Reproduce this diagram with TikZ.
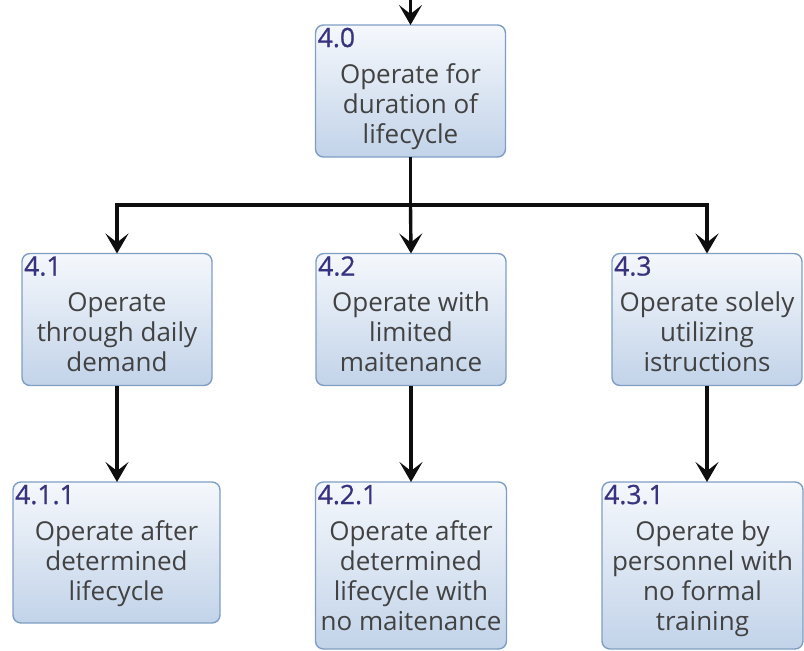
\documentclass[tikz,border=0pt]{standalone}
\usepackage{fontspec}
\setmainfont{Open Sans}
\newfontfamily\idfont[FakeBold=0.8]{Open Sans}
\usetikzlibrary{arrows.meta}

\definecolor{boxedge}{HTML}{7F9EC4}
\definecolor{boxtop}{HTML}{F5F8FC}
\definecolor{boxbot}{HTML}{C2D3E9}
\definecolor{txtgray}{HTML}{424242}
\definecolor{idblue}{HTML}{37337F}
\definecolor{wire}{HTML}{0E0E0E}

\begin{document}
\begin{tikzpicture}[x=1pt,y=-1pt,
  taskbox/.style={draw=boxedge, line width=1.4pt, rounded corners=8pt,
    top color=boxtop, bottom color=boxbot, inner sep=0pt, outer sep=0pt},
  idlabel/.style={inner sep=0pt, text=idblue, font=\idfont\fontsize{26.5}{30}\selectfont, anchor=base west},
  tasktext/.style={inner sep=0pt, text=txtgray, align=center, anchor=north,
    font=\fontsize{26}{30}\selectfont},
  wireline/.style={draw=wire, line width=3.4pt},
  wirearrow/.style={wireline, -{Stealth[length=20pt, width=23pt, inset=9pt]}}
]
\useasboundingbox (0,0) rectangle (804,651);

% task boxes
\node[taskbox, minimum width=190, minimum height=132] (n40) at (410.5,91) {};
\node[taskbox, minimum width=190, minimum height=132] (n41) at (117,319.5) {};
\node[taskbox, minimum width=190, minimum height=132] (n42) at (411,319.5) {};
\node[taskbox, minimum width=190, minimum height=132] (n43) at (707,319.5) {};
\node[taskbox, minimum width=207, minimum height=141] (n411) at (116.5,552.5) {};
\node[taskbox, minimum width=191, minimum height=167] (n421) at (411,565.5) {};
\node[taskbox, minimum width=201, minimum height=167] (n431) at (702.5,565.5) {};

% identifiers
\node[idlabel] (i40) at ([xshift=2pt,yshift=-22pt]n40.north west) {4.0};
\node[idlabel] (i41) at ([xshift=2pt,yshift=-22pt]n41.north west) {4.1};
\node[idlabel] (i42) at ([xshift=2pt,yshift=-22pt]n42.north west) {4.2};
\node[idlabel] (i43) at ([xshift=2pt,yshift=-22pt]n43.north west) {4.3};
\node[idlabel] (i411) at ([xshift=2pt,yshift=-22pt]n411.north west) {4.1.1};
\node[idlabel] (i421) at ([xshift=2pt,yshift=-22pt]n421.north west) {4.2.1};
\node[idlabel] (i431) at ([xshift=2pt,yshift=-22pt]n431.north west) {4.3.1};

% descriptions
\node[tasktext] (t40) at ([yshift=-37pt]n40.north) {\strut Operate for\\duration of\\lifecycle};
\node[tasktext] (t41) at ([yshift=-37pt]n41.north) {\strut Operate\\through daily\\demand};
\node[tasktext] (t42) at ([yshift=-37pt]n42.north) {\strut Operate with\\limited\\maitenance};
\node[tasktext] (t43) at ([yshift=-37pt]n43.north) {\strut Operate solely\\utilizing\\istructions};
\node[tasktext] (t411) at ([yshift=-37pt]n411.north) {\strut Operate after\\determined\\lifecycle};
\node[tasktext] (t421) at ([yshift=-37pt]n421.north) {\strut Operate after\\determined\\lifecycle with\\no maitenance};
\node[tasktext] (t431) at ([yshift=-37pt]n431.north) {\strut Operate by\\personnel with\\no formal\\training};

% connectors
\coordinate (topin) at (410.5,0);
\coordinate (bar) at (410.5,205);
\draw[wirearrow] (topin) -- (n40.north);
\draw[wireline] (n40.south) -- (bar);
\draw[wirearrow] (bar) -| (n41.north);
\draw[wirearrow] (bar) -- (n42.north);
\draw[wirearrow] (bar) -| (n43.north);
\draw[wirearrow] (n41.south) -- (n41.south |- n411.north);
\draw[wirearrow] (n42.south) -- (n42.south |- n421.north);
\draw[wirearrow] (n43.south) -- (n43.south |- n431.north);
\end{tikzpicture}
\end{document}
